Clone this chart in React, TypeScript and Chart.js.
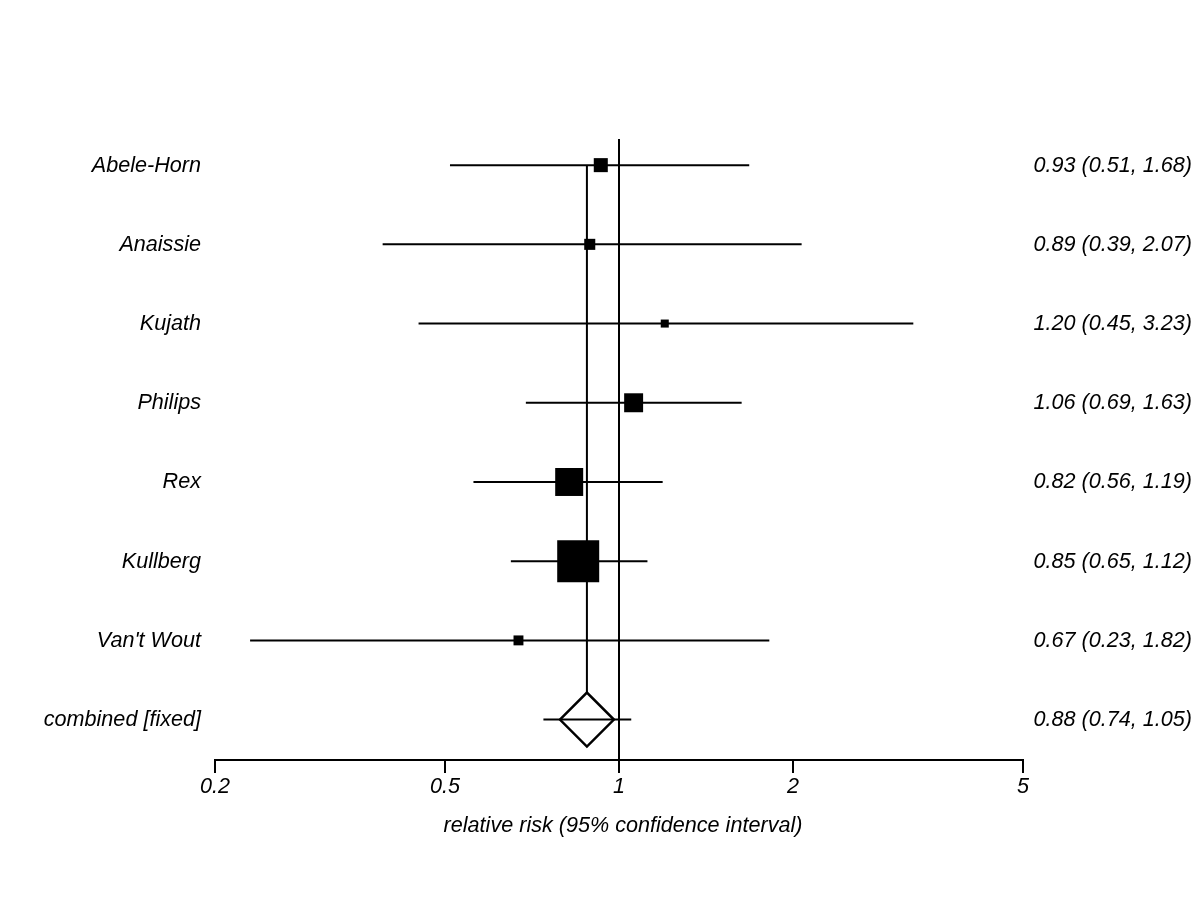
import React, { useEffect, useRef } from "react";
import { Chart, registerables } from "chart.js";

Chart.register(...registerables);

// ---- data ----
const studies = ["Abele-Horn", "Anaissie", "Kujath", "Philips", "Rex", "Kullberg", "Van't Wout"];
const relRisk = [0.93, 0.89, 1.2, 1.06, 0.82, 0.85, 0.67];
const ciLow = [0.51, 0.39, 0.45, 0.69, 0.56, 0.65, 0.23];
const ciHigh = [1.68, 2.07, 3.23, 1.63, 1.19, 1.12, 1.82];
const weights = [5.8, 3.6, 1.9, 10.6, 23.1, 52.0, 2.9];
const pooledLabel = "combined [fixed]";
const pooledRR = [0.88];
const pooledLow = [0.74];
const pooledHigh = [1.05];
const xTicks = [0.2, 0.5, 1, 2, 5];
const xTitle = "relative risk (95% confidence interval)";

const FONT = 'italic 21.6px "Liberation Sans", Arial, Helvetica, sans-serif';
const Y_MIN = -0.33;
const Y_MAX = 7.51;

const fmt = (v: number) => v.toFixed(2);

export default function App() {
  const ref = useRef<HTMLCanvasElement | null>(null);

  useEffect(() => {
    const canvas = ref.current;
    if (!canvas) return;
    const pooledRow = studies.length;
    const leftLabels = [...studies, pooledLabel];
    const rightLabels = [
      ...relRisk.map((v, i) => `${fmt(v)} (${fmt(ciLow[i])}, ${fmt(ciHigh[i])})`),
      `${fmt(pooledRR[0])} (${fmt(pooledLow[0])}, ${fmt(pooledHigh[0])})`,
    ];

    const ciDatasets = studies.map((s, i) => ({
      type: "scatter" as const,
      label: s + " CI",
      data: [
        { x: ciLow[i], y: i },
        { x: ciHigh[i], y: i },
      ],
      showLine: true,
      borderColor: "#000",
      borderWidth: 2,
      pointRadius: 0,
      order: 3,
    }));

    const maxSide = 42;
    const k = maxSide / Math.sqrt(Math.max(...weights));
    const radii = weights.map((w) => (k * Math.sqrt(w)) / Math.SQRT2);

    const bgPlugin = {
      id: "bg",
      beforeDraw(chart: any) {
        const c = chart.ctx;
        c.save();
        c.fillStyle = "#fff";
        c.fillRect(0, 0, chart.width, chart.height);
        c.restore();
      },
    };

    const labelsPlugin = {
      id: "forestLabels",
      afterDraw(chart: any) {
        const c = chart.ctx;
        const x = chart.scales.x;
        const y = chart.scales.y;
        c.save();
        c.fillStyle = "#000";
        c.font = FONT;
        c.textBaseline = "middle";
        c.textAlign = "right";
        leftLabels.forEach((t, i) => {
          const py = y.getPixelForValue(i) + 0.5;
          c.fillText(t, x.left - 14, py);
          c.fillText(rightLabels[i], chart.width - 8, py);
        });
        c.textAlign = "center";
        c.fillText(xTitle, (x.left + x.right) / 2 + 4, x.top + 66);
        c.restore();
      },
    };

    const chart = new Chart(canvas, {
      type: "scatter",
      data: {
        datasets: [
          ...ciDatasets,
          {
            type: "scatter",
            label: "estimates",
            data: relRisk.map((v, i) => ({ x: v, y: i })),
            pointStyle: "rect",
            pointRadius: radii,
            pointHoverRadius: radii,
            backgroundColor: "#000",
            borderWidth: 0,
            order: 1,
          },
          {
            type: "scatter",
            label: "pooled CI",
            data: [
              { x: pooledLow[0], y: pooledRow },
              { x: pooledHigh[0], y: pooledRow },
            ],
            showLine: true,
            borderColor: "#000",
            borderWidth: 2,
            pointRadius: 0,
            order: 3,
          },
          {
            type: "scatter",
            label: "diamond",
            data: [{ x: pooledRR[0], y: pooledRow }],
            pointStyle: "rectRot",
            pointRadius: 27,
            pointHoverRadius: 27,
            backgroundColor: "#fff",
            borderColor: "#000",
            borderWidth: 2.5,
            order: 4,
          },
          {
            type: "scatter",
            label: "pooled line",
            data: [
              { x: pooledRR[0], y: 0 },
              { x: pooledRR[0], y: pooledRow },
            ],
            showLine: true,
            borderColor: "#000",
            borderWidth: 2,
            pointRadius: 0,
            order: 5,
          },
          {
            type: "scatter",
            label: "null line",
            data: [
              { x: 1, y: Y_MIN },
              { x: 1, y: Y_MAX },
            ],
            showLine: true,
            borderColor: "#000",
            borderWidth: 2,
            pointRadius: 0,
            order: 2,
          },
        ],
      },
      options: {
        responsive: false,
        animation: false,
        devicePixelRatio: 1,
        layout: { padding: { left: 215, right: 177, top: 139, bottom: 0 } },
        plugins: {
          legend: { display: false },
          tooltip: { enabled: false },
        },
        events: [],
        scales: {
          x: {
            type: "logarithmic",
            min: 0.2,
            max: 5,
            afterFit: (scale: any) => {
              scale.height = 140;
            },
            afterBuildTicks: (scale: any) => {
              scale.ticks = xTicks.map((v) => ({ value: v }));
            },
            ticks: {
              autoSkip: false,
              maxRotation: 0,
              color: "#000",
              padding: 1,
              font: { family: '"Liberation Sans", Arial, sans-serif', size: 21.6, style: "italic" },
              callback: (v: any) => String(v),
            },
            grid: {
              display: true,
              drawOnChartArea: false,
              drawTicks: true,
              tickLength: 13,
              lineWidth: 2,
              color: "#000",
            },
            border: { display: true, color: "#000", width: 2 },
          },
          y: {
            type: "linear",
            display: false,
            reverse: true,
            min: Y_MIN,
            max: Y_MAX,
          },
        },
      },
      plugins: [bgPlugin, labelsPlugin],
    } as any);

    return () => chart.destroy();
  }, []);

  return (
    <div style={{ position: "fixed", left: 0, top: 0, width: 1200, height: 900, background: "#fff" }}>
      <canvas ref={ref} width={1200} height={900} style={{ width: 1200, height: 900, display: "block" }} />
    </div>
  );
}
